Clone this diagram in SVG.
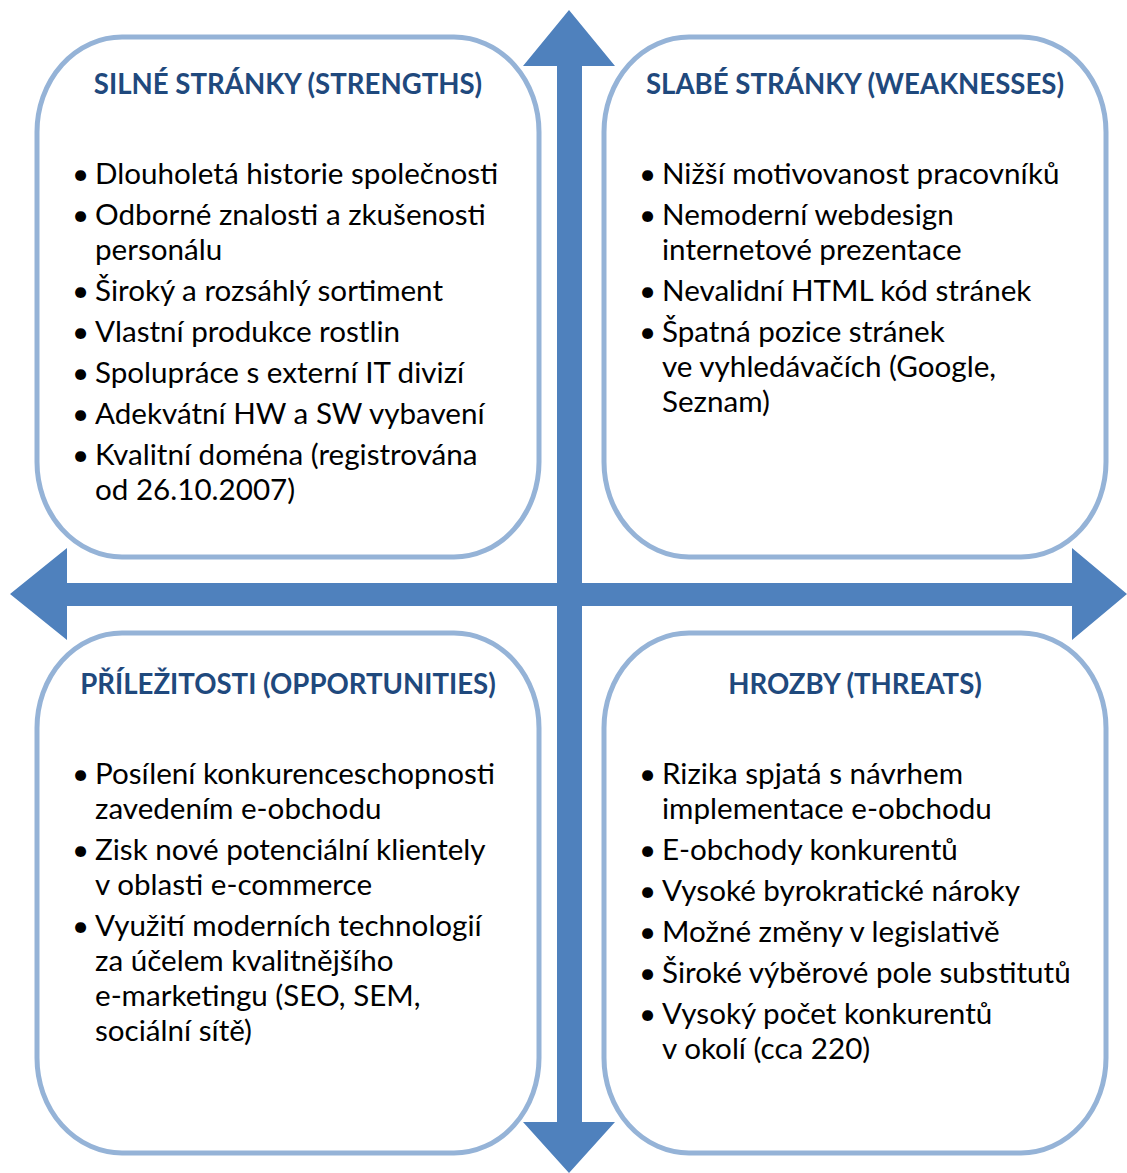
<svg xmlns="http://www.w3.org/2000/svg" width="1127" height="1173" viewBox="0 0 1127 1173">
<style>
.box{fill:#FFFFFF;stroke:#95B3D7;stroke-width:5}
.arrow{fill:#4F81BD}
.title{font-family:Lato,"Noto Sans",sans-serif;font-weight:bold;font-size:27.6px;fill:#1F497D;text-anchor:middle}
.item{font-family:Lato,"Noto Sans",sans-serif;font-size:29.6px;fill:#000000}
</style>
<rect width="1127" height="1173" fill="#FFFFFF"/>
<g id="strengths">
<rect class="box" x="37" y="37" width="502" height="520" rx="85" ry="95"/>
<text class="title" x="288" y="94">SILNÉ STRÁNKY (STRENGTHS)</text>
<text class="item"><tspan x="72" y="184">•</tspan><tspan x="95" y="184">Dlouholetá historie společnosti</tspan><tspan x="72" y="225">•</tspan><tspan x="95" y="225">Odborné znalosti a zkušenosti</tspan><tspan x="95" y="260">personálu</tspan><tspan x="72" y="301">•</tspan><tspan x="95" y="301">Široký a rozsáhlý sortiment</tspan><tspan x="72" y="342">•</tspan><tspan x="95" y="342">Vlastní produkce rostlin</tspan><tspan x="72" y="383">•</tspan><tspan x="95" y="383">Spolupráce s externí IT divizí</tspan><tspan x="72" y="424">•</tspan><tspan x="95" y="424">Adekvátní HW a SW vybavení</tspan><tspan x="72" y="465">•</tspan><tspan x="95" y="465">Kvalitní doména (registrována</tspan><tspan x="95" y="500">od 26.10.2007)</tspan></text>
</g>
<g id="weaknesses">
<rect class="box" x="604" y="37" width="502" height="520" rx="85" ry="95"/>
<text class="title" x="855" y="94">SLABÉ STRÁNKY (WEAKNESSES)</text>
<text class="item"><tspan x="639" y="184">•</tspan><tspan x="662" y="184">Nižší motivovanost pracovníků</tspan><tspan x="639" y="225">•</tspan><tspan x="662" y="225">Nemoderní webdesign</tspan><tspan x="662" y="260">internetové prezentace</tspan><tspan x="639" y="301">•</tspan><tspan x="662" y="301">Nevalidní HTML kód stránek</tspan><tspan x="639" y="342">•</tspan><tspan x="662" y="342">Špatná pozice stránek</tspan><tspan x="662" y="377">ve vyhledávačích (Google,</tspan><tspan x="662" y="412">Seznam)</tspan></text>
</g>
<g id="opportunities">
<rect class="box" x="37" y="633" width="502" height="520" rx="85" ry="95"/>
<text class="title" x="288" y="694">PŘÍLEŽITOSTI (OPPORTUNITIES)</text>
<text class="item"><tspan x="72" y="784">•</tspan><tspan x="95" y="784">Posílení konkurenceschopnosti</tspan><tspan x="95" y="819">zavedením e-obchodu</tspan><tspan x="72" y="860">•</tspan><tspan x="95" y="860">Zisk nové potenciální klientely</tspan><tspan x="95" y="895">v oblasti e-commerce</tspan><tspan x="72" y="936">•</tspan><tspan x="95" y="936">Využití moderních technologií</tspan><tspan x="95" y="971">za účelem kvalitnějšího</tspan><tspan x="95" y="1006">e-marketingu (SEO, SEM,</tspan><tspan x="95" y="1041">sociální sítě)</tspan></text>
</g>
<g id="threats">
<rect class="box" x="604" y="633" width="502" height="520" rx="85" ry="95"/>
<text class="title" x="855" y="694">HROZBY (THREATS)</text>
<text class="item"><tspan x="639" y="784">•</tspan><tspan x="662" y="784">Rizika spjatá s návrhem</tspan><tspan x="662" y="819">implementace e-obchodu</tspan><tspan x="639" y="860">•</tspan><tspan x="662" y="860">E-obchody konkurentů</tspan><tspan x="639" y="901">•</tspan><tspan x="662" y="901">Vysoké byrokratické nároky</tspan><tspan x="639" y="942">•</tspan><tspan x="662" y="942">Možné změny v legislativě</tspan><tspan x="639" y="983">•</tspan><tspan x="662" y="983">Široké výběrové pole substitutů</tspan><tspan x="639" y="1024">•</tspan><tspan x="662" y="1024">Vysoký počet konkurentů</tspan><tspan x="662" y="1059">v okolí (cca 220)</tspan></text>
</g>
<g id="connectors">
<polygon class="arrow" points="569,10 615,66 582,66 582,583 1072,583 1072,548 1127,594 1072,640 1072,606 582,606 582,1122 615,1122 569,1173 523,1122 557,1122 557,606 67,606 67,640 10,594 67,548 67,583 557,583 557,66 523,66"/>
</g>
</svg>
